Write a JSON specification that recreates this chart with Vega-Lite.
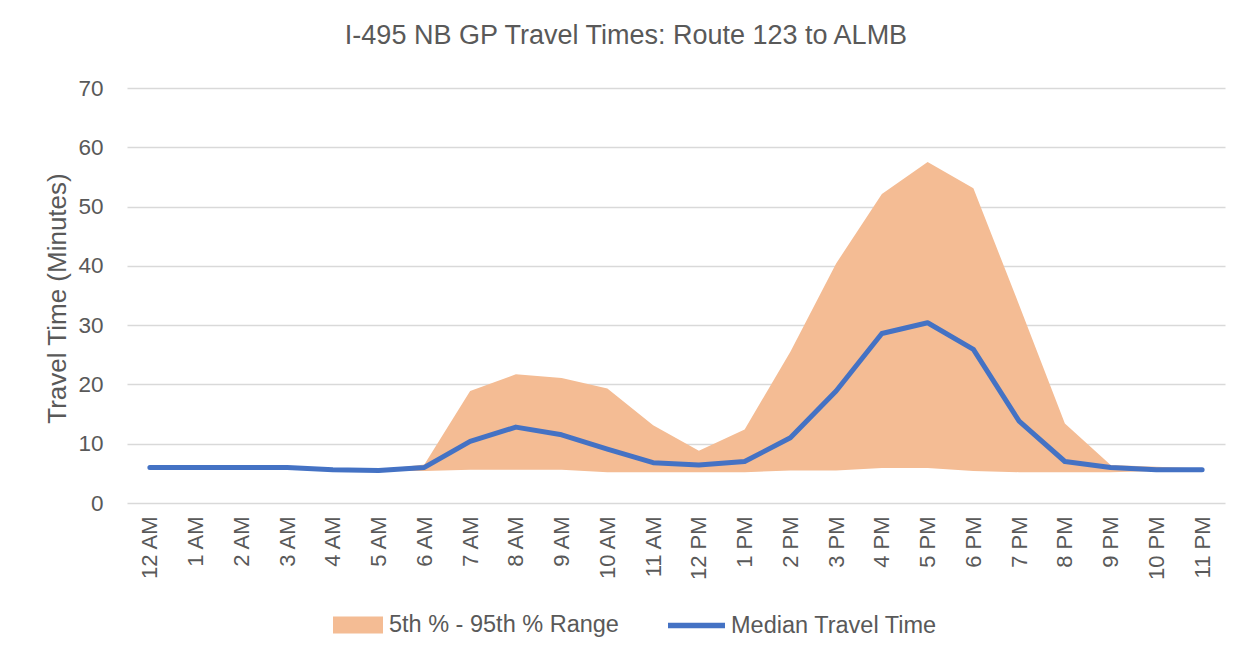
{
  "$schema": "https://vega.github.io/schema/vega-lite/v6.json",
  "autosize": "none",
  "width": 1098,
  "height": 415,
  "padding": {"left": 127, "top": 88, "right": 28, "bottom": 156},
  "background": "white",
  "title": {
    "text": "I-495 NB GP Travel Times: Route 123 to ALMB",
    "font": "Liberation Sans",
    "fontSize": 27,
    "fontWeight": "normal",
    "color": "#595959",
    "anchor": "middle",
    "offset": 27,
    "dx": -50
  },
  "config": {
    "view": {"stroke": null},
    "font": "Liberation Sans"
  },
  "data": {
    "values": [
      {"hour": "12 AM", "p5": 5.9, "p95": 6.1, "median": 6.0},
      {"hour": "1 AM", "p5": 5.9, "p95": 6.1, "median": 6.0},
      {"hour": "2 AM", "p5": 5.9, "p95": 6.1, "median": 6.0},
      {"hour": "3 AM", "p5": 5.9, "p95": 6.1, "median": 6.0},
      {"hour": "4 AM", "p5": 5.5, "p95": 5.7, "median": 5.6},
      {"hour": "5 AM", "p5": 5.4, "p95": 5.6, "median": 5.5},
      {"hour": "6 AM", "p5": 5.4, "p95": 6.5, "median": 6.0},
      {"hour": "7 AM", "p5": 5.6, "p95": 18.9, "median": 10.4},
      {"hour": "8 AM", "p5": 5.6, "p95": 21.7, "median": 12.8},
      {"hour": "9 AM", "p5": 5.6, "p95": 21.1, "median": 11.5},
      {"hour": "10 AM", "p5": 5.2, "p95": 19.3, "median": 9.1},
      {"hour": "11 AM", "p5": 5.2, "p95": 13.1, "median": 6.8},
      {"hour": "12 PM", "p5": 5.2, "p95": 8.8, "median": 6.4},
      {"hour": "1 PM", "p5": 5.2, "p95": 12.4, "median": 7.0},
      {"hour": "2 PM", "p5": 5.5, "p95": 25.5, "median": 11.0},
      {"hour": "3 PM", "p5": 5.5, "p95": 40.4, "median": 18.9},
      {"hour": "4 PM", "p5": 5.9, "p95": 52.1, "median": 28.6},
      {"hour": "5 PM", "p5": 5.9, "p95": 57.5, "median": 30.4},
      {"hour": "6 PM", "p5": 5.4, "p95": 53.1, "median": 25.9},
      {"hour": "7 PM", "p5": 5.2, "p95": 33.4, "median": 13.8},
      {"hour": "8 PM", "p5": 5.2, "p95": 13.4, "median": 7.0},
      {"hour": "9 PM", "p5": 5.2, "p95": 6.4, "median": 6.0},
      {"hour": "10 PM", "p5": 5.4, "p95": 6.1, "median": 5.6},
      {"hour": "11 PM", "p5": 5.4, "p95": 5.8, "median": 5.6}
    ]
  },
  "encoding": {
    "x": {
      "field": "hour",
      "type": "ordinal",
      "sort": null,
      "scale": {"type": "point", "padding": 0.5},
      "axis": {
        "title": null,
        "domain": false,
        "ticks": false,
        "grid": false,
        "labelAngle": 270,
        "labelAlign": "right",
        "labelBaseline": "middle",
        "labelPadding": 13,
        "labelFont": "Liberation Sans",
        "labelFontSize": 22,
        "labelColor": "#595959"
      }
    }
  },
  "layer": [
    {
      "mark": {"type": "area", "color": "#F4BC94", "opacity": 1},
      "encoding": {
        "y": {
          "field": "p95",
          "type": "quantitative",
          "scale": {"domain": [0, 70], "nice": false},
          "axis": {
            "values": [0, 10, 20, 30, 40, 50, 60, 70],
            "title": "Travel Time (Minutes)",
            "titleFont": "Liberation Sans",
            "titleFontSize": 26,
            "titleFontWeight": "normal",
            "titleColor": "#595959",
            "titleAngle": -90,
            "titleX": -70,
            "titleY": 210,
            "titleAlign": "center",
            "titleBaseline": "middle",
            "domain": false,
            "ticks": false,
            "grid": true,
            "gridColor": "#D9D9D9",
            "gridWidth": 1.5,
            "labelPadding": 24,
            "labelFont": "Liberation Sans",
            "labelFontSize": 22.5,
            "labelColor": "#595959"
          }
        },
        "y2": {"field": "p5"},
        "fill": {
          "datum": "5th % - 95th % Range",
          "scale": {"range": ["#F4BC94"]},
          "legend": {
            "title": null,
            "orient": "none",
            "legendX": 206,
            "legendY": 512,
            "padding": 0,
            "symbolType": "M-1,-0.34H1V0.34H-1Z",
            "symbolSize": 2500,
            "symbolStrokeWidth": 0,
            "symbolOpacity": 1,
            "labelFont": "Liberation Sans",
            "labelFontSize": 23.5,
            "labelColor": "#595959",
            "labelLimit": 500,
            "labelOffset": 6
          }
        }
      }
    },
    {
      "mark": {"type": "line", "color": "#4472C4", "strokeWidth": 5, "strokeCap": "round", "strokeJoin": "round"},
      "encoding": {
        "y": {"field": "median", "type": "quantitative"},
        "stroke": {
          "datum": "Median Travel Time",
          "scale": {"range": ["#4472C4"]},
          "legend": {
            "title": null,
            "orient": "none",
            "legendX": 538,
            "legendY": 506,
            "padding": 0,
            "symbolType": "stroke",
            "symbolSize": 3249,
            "symbolStrokeWidth": 5.5,
            "labelFont": "Liberation Sans",
            "labelFontSize": 23.5,
            "labelColor": "#595959",
            "labelLimit": 500,
            "labelOffset": 3
          }
        }
      }
    }
  ]
}
